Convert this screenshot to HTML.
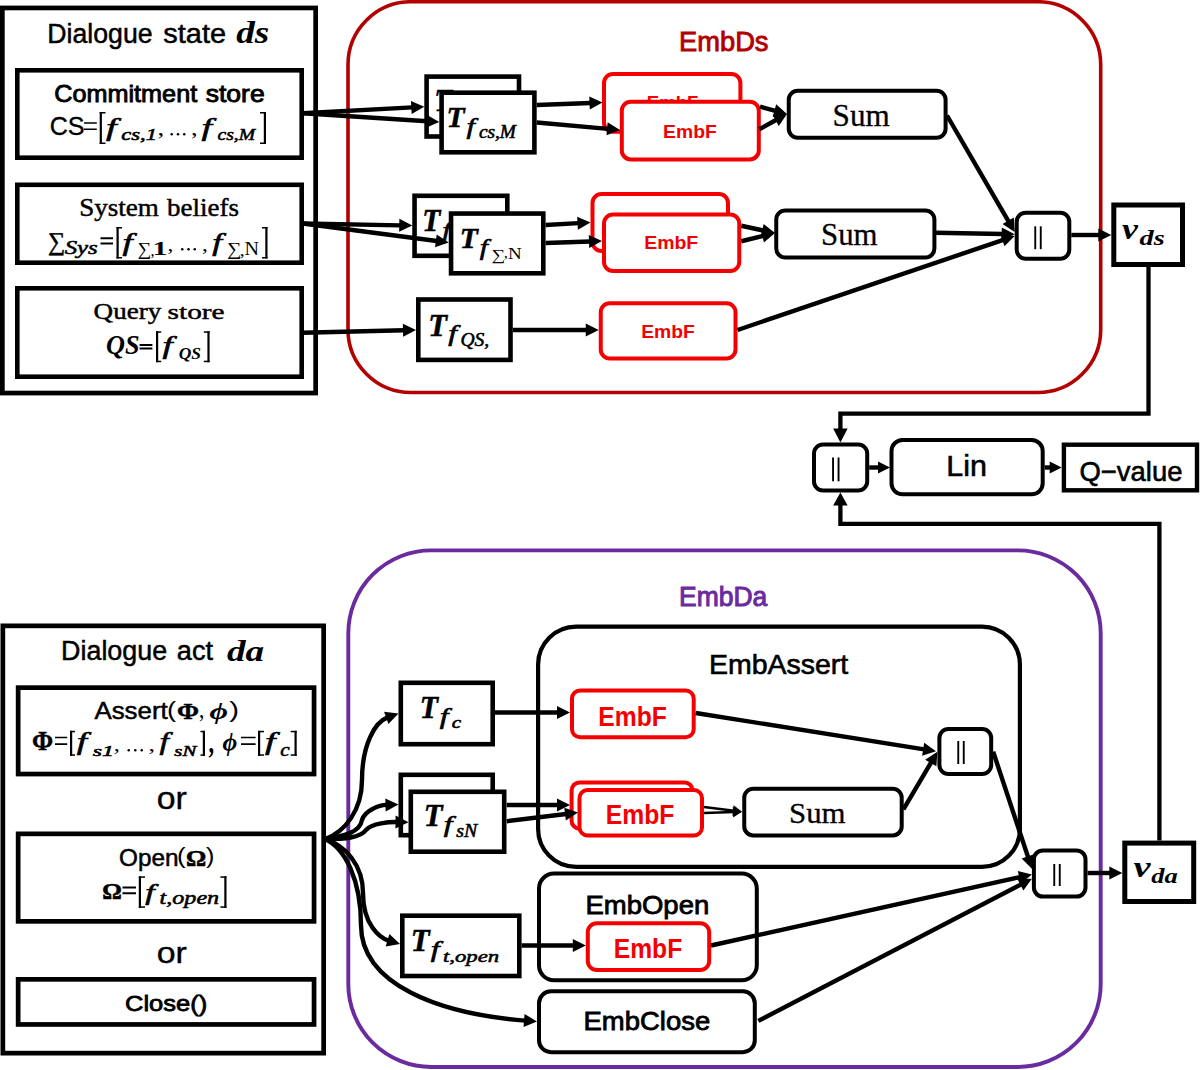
<!DOCTYPE html>
<html><head><meta charset="utf-8">
<style>
html,body{margin:0;padding:0;background:#fff;overflow:hidden;}
svg{display:block;}
</style></head>
<body>
<svg width="1200" height="1070" viewBox="0 0 1200 1070">
<rect width="1200" height="1070" fill="#fff"/>
<rect x="348" y="1.75" width="752.7" height="390.75" rx="63" ry="63" fill="none" stroke="#b30000" stroke-width="3.6"/>
<rect x="348.3" y="550.4" width="752.4" height="516.6" rx="83" ry="83" fill="none" stroke="#6a2b9e" stroke-width="3.9"/>
<rect x="2.35" y="7.95" width="313.30" height="385.10" fill="none" stroke="#000" stroke-width="4.7"/>
<rect x="17.30" y="70.30" width="284.40" height="87.40" fill="#fff" stroke="#000" stroke-width="4.6"/>
<rect x="17.30" y="184.80" width="284.40" height="77.90" fill="#fff" stroke="#000" stroke-width="4.6"/>
<rect x="17.30" y="288.30" width="284.40" height="88.40" fill="#fff" stroke="#000" stroke-width="4.6"/>
<text x="47.30" y="43.00" font-family='"Liberation Sans",sans-serif' font-size="28.36" font-weight="normal" font-style="normal" fill="#000" textLength="105.33" lengthAdjust="spacingAndGlyphs" stroke="#000" stroke-width="0.5">Dialogue</text>
<text x="163.30" y="43.00" font-family='"Liberation Sans",sans-serif' font-size="27.44" font-weight="normal" font-style="normal" fill="#000" textLength="62.74" lengthAdjust="spacingAndGlyphs" stroke="#000" stroke-width="0.5">state</text>
<text x="236.24" y="43.20" font-family='"Liberation Serif",serif' font-size="30.50" font-weight="bold" font-style="italic" fill="#000" textLength="33.04" lengthAdjust="spacingAndGlyphs" >ds</text>
<text x="54.24" y="102.20" font-family='"Liberation Sans",sans-serif' font-size="24.37" font-weight="normal" font-style="normal" fill="#000" textLength="142.95" lengthAdjust="spacingAndGlyphs" stroke="#000" stroke-width="0.9">Commitment</text>
<text x="205.77" y="102.20" font-family='"Liberation Sans",sans-serif' font-size="23.57" font-weight="normal" font-style="normal" fill="#000" textLength="58.87" lengthAdjust="spacingAndGlyphs" stroke="#000" stroke-width="0.9">store</text>
<text x="49.75" y="135.00" font-family='"Liberation Sans",sans-serif' font-size="25.09" font-weight="normal" font-style="normal" fill="#000" textLength="34.86" lengthAdjust="spacingAndGlyphs" stroke="#000" stroke-width="0.35">CS</text>
<path d="M84,123 H96.8 M84,129.2 H96.8" stroke="#000" stroke-width="1.5" fill="none"/>
<rect x="99.7" y="112" width="2.2" height="32" fill="#000"/>
<rect x="99.7" y="112" width="5.799999999999997" height="1.5" fill="#000"/>
<rect x="99.7" y="142.5" width="5.799999999999997" height="1.5" fill="#000"/>
<text x="105.92" y="135.64" font-family='"Liberation Serif",serif' font-size="26.16" font-weight="normal" font-style="italic" fill="#000" textLength="10.68" lengthAdjust="spacingAndGlyphs" stroke="#000" stroke-width="0.6">f</text>
<text x="121.33" y="140.00" font-family='"Liberation Serif",serif' font-size="15.91" font-weight="normal" font-style="italic" fill="#000" textLength="35.60" lengthAdjust="spacingAndGlyphs" stroke="#000" stroke-width="0.55">cs,1</text>
<text x="157.50" y="135.19" font-family='"Liberation Serif",serif' font-size="21.36" font-weight="normal" font-style="normal" fill="#000" textLength="6.67" lengthAdjust="spacingAndGlyphs" >,</text>
<circle cx="171.75" cy="134.2" r="1.25" fill="#000"/>
<circle cx="178.00" cy="134.2" r="1.25" fill="#000"/>
<circle cx="184.25" cy="134.2" r="1.25" fill="#000"/>
<text x="191.00" y="135.19" font-family='"Liberation Serif",serif' font-size="21.36" font-weight="normal" font-style="normal" fill="#000" textLength="6.67" lengthAdjust="spacingAndGlyphs" >,</text>
<text x="201.62" y="135.64" font-family='"Liberation Serif",serif' font-size="26.16" font-weight="normal" font-style="italic" fill="#000" textLength="10.53" lengthAdjust="spacingAndGlyphs" stroke="#000" stroke-width="0.6">f</text>
<text x="217.41" y="140.00" font-family='"Liberation Serif",serif' font-size="17.56" font-weight="normal" font-style="italic" fill="#000" textLength="37.68" lengthAdjust="spacingAndGlyphs" stroke="#000" stroke-width="0.55">cs,M</text>
<rect x="263.8" y="112" width="2.2" height="32" fill="#000"/>
<rect x="260" y="112" width="6" height="1.5" fill="#000"/>
<rect x="260" y="142.5" width="6" height="1.5" fill="#000"/>
<text x="79.17" y="216.00" font-family='"Liberation Serif",serif' font-size="24.91" font-weight="normal" font-style="normal" fill="#000" textLength="79.73" lengthAdjust="spacingAndGlyphs" stroke="#000" stroke-width="0.45">System</text>
<text x="167.00" y="216.00" font-family='"Liberation Serif",serif' font-size="24.46" font-weight="normal" font-style="normal" fill="#000" textLength="71.96" lengthAdjust="spacingAndGlyphs" stroke="#000" stroke-width="0.45">beliefs</text>
<text x="47.91" y="250.11" font-family='"Liberation Serif",serif' font-size="25.36" font-weight="normal" font-style="normal" fill="#000" textLength="17.30" lengthAdjust="spacingAndGlyphs" stroke="#000" stroke-width="0.5">∑</text>
<text x="64.69" y="254.00" font-family='"Liberation Serif",serif' font-size="18.87" font-weight="normal" font-style="italic" fill="#000" textLength="33.00" lengthAdjust="spacingAndGlyphs" stroke="#000" stroke-width="0.55">Sys</text>
<path d="M100.5,238.2 H113 M100.5,243.4 H113" stroke="#000" stroke-width="2.0" fill="none"/>
<rect x="116.5" y="227" width="2.2" height="31.5" fill="#000"/>
<rect x="116.5" y="227" width="5.5" height="1.5" fill="#000"/>
<rect x="116.5" y="257.0" width="5.5" height="1.5" fill="#000"/>
<text x="122.63" y="250.56" font-family='"Liberation Serif",serif' font-size="25.61" font-weight="normal" font-style="italic" fill="#000" textLength="10.17" lengthAdjust="spacingAndGlyphs" stroke="#000" stroke-width="0.6">f</text>
<text x="137.63" y="255.08" font-family='"Liberation Serif",serif' font-size="18.44" font-weight="normal" font-style="normal" fill="#000" textLength="13.72" lengthAdjust="spacingAndGlyphs" >∑</text>
<text x="150.38" y="255.79" font-family='"Liberation Serif",serif' font-size="17.48" font-weight="normal" font-style="normal" fill="#000" textLength="4.17" lengthAdjust="spacingAndGlyphs" >,</text>
<text x="152.61" y="255.00" font-family='"Liberation Serif",serif' font-size="18.18" font-weight="bold" font-style="normal" fill="#000" textLength="14.97" lengthAdjust="spacingAndGlyphs" >1</text>
<text x="167.62" y="251.49" font-family='"Liberation Serif",serif' font-size="19.42" font-weight="normal" font-style="normal" fill="#000" textLength="5.83" lengthAdjust="spacingAndGlyphs" >,</text>
<circle cx="182.25" cy="249.3" r="1.25" fill="#000"/>
<circle cx="188.50" cy="249.3" r="1.25" fill="#000"/>
<circle cx="194.75" cy="249.3" r="1.25" fill="#000"/>
<text x="202.12" y="251.49" font-family='"Liberation Serif",serif' font-size="19.42" font-weight="normal" font-style="normal" fill="#000" textLength="5.83" lengthAdjust="spacingAndGlyphs" >,</text>
<text x="212.15" y="250.56" font-family='"Liberation Serif",serif' font-size="25.61" font-weight="normal" font-style="italic" fill="#000" textLength="9.81" lengthAdjust="spacingAndGlyphs" stroke="#000" stroke-width="0.6">f</text>
<text x="227.10" y="255.08" font-family='"Liberation Serif",serif' font-size="18.44" font-weight="normal" font-style="normal" fill="#000" textLength="14.32" lengthAdjust="spacingAndGlyphs" >∑</text>
<text x="239.75" y="255.79" font-family='"Liberation Serif",serif' font-size="17.48" font-weight="normal" font-style="normal" fill="#000" textLength="5.00" lengthAdjust="spacingAndGlyphs" >,</text>
<text x="244.45" y="255.00" font-family='"Liberation Serif",serif' font-size="18.32" font-weight="normal" font-style="normal" fill="#000" textLength="14.50" lengthAdjust="spacingAndGlyphs" >N</text>
<rect x="265.3" y="227" width="2.2" height="31.5" fill="#000"/>
<rect x="262" y="227" width="5.5" height="1.5" fill="#000"/>
<rect x="262" y="257.0" width="5.5" height="1.5" fill="#000"/>
<text x="93.62" y="319.00" font-family='"Liberation Serif",serif' font-size="23.70" font-weight="normal" font-style="normal" fill="#000" textLength="67.62" lengthAdjust="spacingAndGlyphs" stroke="#000" stroke-width="0.45">Query</text>
<text x="167.63" y="319.00" font-family='"Liberation Serif",serif' font-size="21.77" font-weight="normal" font-style="normal" fill="#000" textLength="56.97" lengthAdjust="spacingAndGlyphs" stroke="#000" stroke-width="0.45">store</text>
<text x="105.98" y="354.00" font-family='"Liberation Serif",serif' font-size="26.42" font-weight="bold" font-style="italic" fill="#000" textLength="33.49" lengthAdjust="spacingAndGlyphs" >QS</text>
<path d="M139.6,345 H152.4 M139.6,348.5 H152.4" stroke="#000" stroke-width="1.8" fill="none"/>
<rect x="156" y="331.3" width="2.2" height="30.899999999999977" fill="#000"/>
<rect x="156" y="331.3" width="5.199999999999989" height="1.5" fill="#000"/>
<rect x="156" y="360.7" width="5.199999999999989" height="1.5" fill="#000"/>
<text x="162.63" y="353.90" font-family='"Liberation Serif",serif' font-size="25.40" font-weight="normal" font-style="italic" fill="#000" textLength="10.17" lengthAdjust="spacingAndGlyphs" stroke="#000" stroke-width="0.6">f</text>
<text x="178.69" y="359.30" font-family='"Liberation Serif",serif' font-size="17.66" font-weight="bold" font-style="italic" fill="#000" textLength="22.32" lengthAdjust="spacingAndGlyphs" >QS</text>
<rect x="207.4" y="331.3" width="2.2" height="30.899999999999977" fill="#000"/>
<rect x="203.8" y="331.3" width="5.799999999999983" height="1.5" fill="#000"/>
<rect x="203.8" y="360.7" width="5.799999999999983" height="1.5" fill="#000"/>
<rect x="2.85" y="625.85" width="320.80" height="427.30" fill="none" stroke="#000" stroke-width="4.7"/>
<rect x="18.15" y="687.65" width="295.90" height="86.40" fill="#fff" stroke="#000" stroke-width="4.7"/>
<rect x="18.15" y="833.85" width="295.90" height="87.50" fill="#fff" stroke="#000" stroke-width="4.7"/>
<rect x="18.15" y="979.35" width="295.90" height="45.10" fill="#fff" stroke="#000" stroke-width="4.7"/>
<text x="61.08" y="660.40" font-family='"Liberation Sans",sans-serif' font-size="27.93" font-weight="normal" font-style="normal" fill="#000" textLength="106.06" lengthAdjust="spacingAndGlyphs" stroke="#000" stroke-width="0.5">Dialogue</text>
<text x="176.85" y="660.40" font-family='"Liberation Sans",sans-serif' font-size="26.98" font-weight="normal" font-style="normal" fill="#000" textLength="36.20" lengthAdjust="spacingAndGlyphs" stroke="#000" stroke-width="0.5">act</text>
<text x="227.04" y="661.00" font-family='"Liberation Serif",serif' font-size="29.78" font-weight="bold" font-style="italic" fill="#000" textLength="37.19" lengthAdjust="spacingAndGlyphs" >da</text>
<text x="94.44" y="718.90" font-family='"Liberation Sans",sans-serif' font-size="23.42" font-weight="normal" font-style="normal" fill="#000" textLength="73.30" lengthAdjust="spacingAndGlyphs" stroke="#000" stroke-width="0.5">Assert</text>
<text x="167.10" y="716.89" font-family='"Liberation Sans",sans-serif' font-size="22.20" font-weight="normal" font-style="normal" fill="#000" textLength="9.05" lengthAdjust="spacingAndGlyphs" >(</text>
<text x="176.90" y="718.90" font-family='"Liberation Serif",serif' font-size="23.66" font-weight="bold" font-style="normal" fill="#000" textLength="22.04" lengthAdjust="spacingAndGlyphs" stroke="#000" stroke-width="0.4">Φ</text>
<text x="199.00" y="718.21" font-family='"Liberation Serif",serif' font-size="24.47" font-weight="normal" font-style="normal" fill="#000" textLength="5.33" lengthAdjust="spacingAndGlyphs" >,</text>
<text x="209.52" y="719.26" font-family='"Liberation Serif",serif' font-size="22.28" font-weight="bold" font-style="italic" fill="#000" textLength="18.47" lengthAdjust="spacingAndGlyphs" >ϕ</text>
<text x="229.28" y="716.89" font-family='"Liberation Sans",sans-serif' font-size="22.20" font-weight="normal" font-style="normal" fill="#000" textLength="9.80" lengthAdjust="spacingAndGlyphs" >)</text>
<text x="32.04" y="750.40" font-family='"Liberation Serif",serif' font-size="26.72" font-weight="bold" font-style="normal" fill="#000" textLength="21.15" lengthAdjust="spacingAndGlyphs" stroke="#000" stroke-width="0.4">Φ</text>
<path d="M55,737.5 H67.2 M55,744.2 H67.2" stroke="#000" stroke-width="1.7" fill="none"/>
<rect x="70" y="730.8" width="2.2" height="25.0" fill="#000"/>
<rect x="70" y="730.8" width="5" height="1.5" fill="#000"/>
<rect x="70" y="754.3" width="5" height="1.5" fill="#000"/>
<text x="76.83" y="750.29" font-family='"Liberation Serif",serif' font-size="25.94" font-weight="normal" font-style="italic" fill="#000" textLength="10.24" lengthAdjust="spacingAndGlyphs" stroke="#000" stroke-width="0.6">f</text>
<text x="92.70" y="755.80" font-family='"Liberation Serif",serif' font-size="15.15" font-weight="normal" font-style="italic" fill="#000" textLength="21.13" lengthAdjust="spacingAndGlyphs" stroke="#000" stroke-width="0.55">s1</text>
<text x="113.78" y="751.49" font-family='"Liberation Serif",serif' font-size="19.42" font-weight="normal" font-style="normal" fill="#000" textLength="6.17" lengthAdjust="spacingAndGlyphs" >,</text>
<circle cx="128.75" cy="750.2" r="1.25" fill="#000"/>
<circle cx="135.25" cy="750.2" r="1.25" fill="#000"/>
<circle cx="141.75" cy="750.2" r="1.25" fill="#000"/>
<text x="148.43" y="751.49" font-family='"Liberation Serif",serif' font-size="19.42" font-weight="normal" font-style="normal" fill="#000" textLength="6.50" lengthAdjust="spacingAndGlyphs" >,</text>
<text x="159.46" y="750.29" font-family='"Liberation Serif",serif' font-size="25.94" font-weight="normal" font-style="italic" fill="#000" textLength="9.37" lengthAdjust="spacingAndGlyphs" stroke="#000" stroke-width="0.6">f</text>
<text x="174.34" y="755.80" font-family='"Liberation Serif",serif' font-size="14.81" font-weight="normal" font-style="italic" fill="#000" textLength="21.90" lengthAdjust="spacingAndGlyphs" stroke="#000" stroke-width="0.55">sN</text>
<rect x="202.8" y="730.8" width="2.2" height="25.0" fill="#000"/>
<rect x="200.5" y="730.8" width="4.5" height="1.5" fill="#000"/>
<rect x="200.5" y="754.3" width="4.5" height="1.5" fill="#000"/>
<text x="208.62" y="753.33" font-family='"Liberation Serif",serif' font-size="32.07" font-weight="bold" font-style="normal" fill="#000" textLength="5.62" lengthAdjust="spacingAndGlyphs" >,</text>
<text x="222.62" y="750.51" font-family='"Liberation Serif",serif' font-size="24.40" font-weight="bold" font-style="italic" fill="#000" textLength="14.78" lengthAdjust="spacingAndGlyphs" >ϕ</text>
<path d="M241,737.5 H255.6 M241,744.2 H255.6" stroke="#000" stroke-width="1.7" fill="none"/>
<rect x="258" y="730.8" width="2.2" height="25.0" fill="#000"/>
<rect x="258" y="730.8" width="6" height="1.5" fill="#000"/>
<rect x="258" y="754.3" width="6" height="1.5" fill="#000"/>
<text x="264.92" y="750.29" font-family='"Liberation Serif",serif' font-size="25.94" font-weight="normal" font-style="italic" fill="#000" textLength="10.53" lengthAdjust="spacingAndGlyphs" stroke="#000" stroke-width="0.6">f</text>
<text x="280.37" y="755.80" font-family='"Liberation Serif",serif' font-size="18.09" font-weight="normal" font-style="italic" fill="#000" textLength="9.37" lengthAdjust="spacingAndGlyphs" stroke="#000" stroke-width="0.55">c</text>
<rect x="294.5" y="730.8" width="2.2" height="25.0" fill="#000"/>
<rect x="290.7" y="730.8" width="6.0" height="1.5" fill="#000"/>
<rect x="290.7" y="754.3" width="6.0" height="1.5" fill="#000"/>
<text x="156.76" y="808.50" font-family='"Liberation Sans",sans-serif' font-size="30.51" font-weight="normal" font-style="normal" fill="#000" textLength="30.10" lengthAdjust="spacingAndGlyphs" stroke="#000" stroke-width="0.35">or</text>
<text x="119.10" y="865.60" font-family='"Liberation Sans",sans-serif' font-size="24.23" font-weight="normal" font-style="normal" fill="#000" textLength="59.46" lengthAdjust="spacingAndGlyphs" stroke="#000" stroke-width="0.5">Open</text>
<text x="177.10" y="863.14" font-family='"Liberation Sans",sans-serif' font-size="22.95" font-weight="normal" font-style="normal" fill="#000" textLength="8.55" lengthAdjust="spacingAndGlyphs" >(</text>
<text x="186.06" y="865.60" font-family='"Liberation Serif",serif' font-size="22.94" font-weight="bold" font-style="normal" fill="#000" textLength="20.23" lengthAdjust="spacingAndGlyphs" stroke="#000" stroke-width="0.6">Ω</text>
<text x="206.11" y="863.14" font-family='"Liberation Sans",sans-serif' font-size="22.95" font-weight="normal" font-style="normal" fill="#000" textLength="8.42" lengthAdjust="spacingAndGlyphs" >)</text>
<text x="102.30" y="899.40" font-family='"Liberation Serif",serif' font-size="22.94" font-weight="bold" font-style="normal" fill="#000" textLength="19.56" lengthAdjust="spacingAndGlyphs" stroke="#000" stroke-width="0.6">Ω</text>
<path d="M122.5,887.5 H136 M122.5,893.2 H136" stroke="#000" stroke-width="2.0" fill="none"/>
<rect x="138.8" y="876.3" width="2.2" height="31.5" fill="#000"/>
<rect x="138.8" y="876.3" width="6.199999999999989" height="1.5" fill="#000"/>
<rect x="138.8" y="906.3" width="6.199999999999989" height="1.5" fill="#000"/>
<text x="145.26" y="899.58" font-family='"Liberation Serif",serif' font-size="22.67" font-weight="normal" font-style="italic" fill="#000" textLength="9.37" lengthAdjust="spacingAndGlyphs" stroke="#000" stroke-width="0.6">f</text>
<text x="159.62" y="903.90" font-family='"Liberation Serif",serif' font-size="18.94" font-weight="normal" font-style="italic" fill="#000" textLength="59.49" lengthAdjust="spacingAndGlyphs" stroke="#000" stroke-width="0.55">t,open</text>
<rect x="224.3" y="876.3" width="2.2" height="31.5" fill="#000"/>
<rect x="220.4" y="876.3" width="6.099999999999994" height="1.5" fill="#000"/>
<rect x="220.4" y="906.3" width="6.099999999999994" height="1.5" fill="#000"/>
<text x="156.76" y="962.50" font-family='"Liberation Sans",sans-serif' font-size="29.40" font-weight="normal" font-style="normal" fill="#000" textLength="30.10" lengthAdjust="spacingAndGlyphs" stroke="#000" stroke-width="0.35">or</text>
<text x="125.03" y="1010.80" font-family='"Liberation Sans",sans-serif' font-size="22.65" font-weight="normal" font-style="normal" fill="#000" textLength="82.11" lengthAdjust="spacingAndGlyphs" stroke="#000" stroke-width="0.8">Close()</text>
<text x="679.05" y="50.80" font-family='"Liberation Sans",sans-serif' font-size="27.78" font-weight="normal" font-style="normal" fill="#b30000" textLength="89.43" lengthAdjust="spacingAndGlyphs" stroke="#b30000" stroke-width="0.9">EmbDs</text>
<rect x="426.60" y="76.60" width="92.40" height="59.90" fill="#fff" stroke="#000" stroke-width="4.6"/>
<text x="434.15" y="111.20" font-family='"Liberation Serif",serif' font-size="31.30" font-weight="bold" font-style="italic" fill="#000" textLength="18.11" lengthAdjust="spacingAndGlyphs" stroke="#000" stroke-width="0.5">T</text>
<rect x="441.60" y="92.70" width="92.80" height="59.60" fill="#fff" stroke="#000" stroke-width="4.6"/>
<text x="446.45" y="127.20" font-family='"Liberation Serif",serif' font-size="30.38" font-weight="bold" font-style="italic" fill="#000" textLength="18.11" lengthAdjust="spacingAndGlyphs" stroke="#000" stroke-width="0.5">T</text>
<text x="466.40" y="133.94" font-family='"Liberation Serif",serif' font-size="22.89" font-weight="normal" font-style="italic" fill="#000" textLength="8.43" lengthAdjust="spacingAndGlyphs" stroke="#000" stroke-width="0.6">f</text>
<text x="478.92" y="137.70" font-family='"Liberation Serif",serif' font-size="17.86" font-weight="normal" font-style="italic" fill="#000" textLength="37.08" lengthAdjust="spacingAndGlyphs" stroke="#000" stroke-width="0.55">cs,M</text>
<rect x="604.00" y="74.00" width="136.40" height="57.70" rx="9" ry="9" fill="#fff" stroke="#f40000" stroke-width="4"/>
<text x="646.75" y="109.40" font-family='"Liberation Sans",sans-serif' font-size="19.20" font-weight="bold" font-style="normal" fill="#f40000" textLength="51.61" lengthAdjust="spacingAndGlyphs" >EmbF</text>
<rect x="621.80" y="101.70" width="137.00" height="57.70" rx="9" ry="9" fill="#fff" stroke="#f40000" stroke-width="4"/>
<text x="663.10" y="137.70" font-family='"Liberation Sans",sans-serif' font-size="19.20" font-weight="bold" font-style="normal" fill="#f40000" textLength="53.69" lengthAdjust="spacingAndGlyphs" >EmbF</text>
<rect x="788.75" y="90.75" width="156.85" height="46.95" rx="9" ry="9" fill="#fff" stroke="#000" stroke-width="4"/>
<text x="832.60" y="125.80" font-family='"Liberation Serif",serif' font-size="31.09" font-weight="normal" font-style="normal" fill="#000" textLength="57.12" lengthAdjust="spacingAndGlyphs" stroke="#000" stroke-width="0.3">Sum</text>
<rect x="414.55" y="195.80" width="92.75" height="60.00" fill="#fff" stroke="#000" stroke-width="4.6"/>
<text x="422.26" y="231.25" font-family='"Liberation Serif",serif' font-size="30.53" font-weight="bold" font-style="italic" fill="#000" textLength="18.06" lengthAdjust="spacingAndGlyphs" stroke="#000" stroke-width="0.5">T</text>
<text x="442.20" y="238.25" font-family='"Liberation Serif",serif' font-size="22.34" font-weight="normal" font-style="italic" fill="#000" textLength="8.35" lengthAdjust="spacingAndGlyphs" stroke="#000" stroke-width="0.6">f</text>
<rect x="451.05" y="213.55" width="92.25" height="59.75" fill="#fff" stroke="#000" stroke-width="4.6"/>
<text x="459.76" y="247.50" font-family='"Liberation Serif",serif' font-size="29.62" font-weight="bold" font-style="italic" fill="#000" textLength="18.06" lengthAdjust="spacingAndGlyphs" stroke="#000" stroke-width="0.5">T</text>
<text x="479.71" y="254.62" font-family='"Liberation Serif",serif' font-size="22.51" font-weight="normal" font-style="italic" fill="#000" textLength="8.17" lengthAdjust="spacingAndGlyphs" stroke="#000" stroke-width="0.6">f</text>
<text x="491.63" y="259.69" font-family='"Liberation Serif",serif' font-size="15.56" font-weight="normal" font-style="normal" fill="#000" textLength="13.72" lengthAdjust="spacingAndGlyphs" >∑</text>
<text x="503.88" y="257.59" font-family='"Liberation Serif",serif' font-size="15.53" font-weight="normal" font-style="normal" fill="#000" textLength="4.17" lengthAdjust="spacingAndGlyphs" >,</text>
<text x="507.98" y="259.40" font-family='"Liberation Serif",serif' font-size="17.40" font-weight="normal" font-style="normal" fill="#000" textLength="13.69" lengthAdjust="spacingAndGlyphs" >N</text>
<rect x="592.50" y="194.00" width="135.50" height="57.00" rx="9" ry="9" fill="#fff" stroke="#f40000" stroke-width="4"/>
<text x="633.20" y="229.50" font-family='"Liberation Sans",sans-serif' font-size="19.20" font-weight="bold" font-style="normal" fill="#f40000" textLength="53.48" lengthAdjust="spacingAndGlyphs" >EmbF</text>
<rect x="604.00" y="214.50" width="135.25" height="56.50" rx="9" ry="9" fill="#fff" stroke="#f40000" stroke-width="4"/>
<text x="644.19" y="249.25" font-family='"Liberation Sans",sans-serif' font-size="19.20" font-weight="bold" font-style="normal" fill="#f40000" textLength="54.00" lengthAdjust="spacingAndGlyphs" >EmbF</text>
<rect x="776.25" y="210.50" width="158.15" height="47.00" rx="9" ry="9" fill="#fff" stroke="#000" stroke-width="4"/>
<text x="821.02" y="245.40" font-family='"Liberation Serif",serif' font-size="31.09" font-weight="normal" font-style="normal" fill="#000" textLength="56.49" lengthAdjust="spacingAndGlyphs" stroke="#000" stroke-width="0.3">Sum</text>
<rect x="418.30" y="299.50" width="92.20" height="60.40" fill="#fff" stroke="#000" stroke-width="4.6"/>
<text x="428.27" y="335.50" font-family='"Liberation Serif",serif' font-size="31.30" font-weight="bold" font-style="italic" fill="#000" textLength="18.75" lengthAdjust="spacingAndGlyphs" stroke="#000" stroke-width="0.5">T</text>
<text x="448.19" y="340.75" font-family='"Liberation Serif",serif' font-size="22.34" font-weight="normal" font-style="italic" fill="#000" textLength="8.72" lengthAdjust="spacingAndGlyphs" stroke="#000" stroke-width="0.6">f</text>
<text x="460.42" y="346.00" font-family='"Liberation Serif",serif' font-size="18.11" font-weight="normal" font-style="italic" fill="#000" textLength="28.79" lengthAdjust="spacingAndGlyphs" stroke="#000" stroke-width="0.55">QS,</text>
<rect x="600.75" y="303.25" width="134.75" height="55.25" rx="9" ry="9" fill="#fff" stroke="#f40000" stroke-width="4"/>
<text x="641.19" y="337.50" font-family='"Liberation Sans",sans-serif' font-size="19.20" font-weight="bold" font-style="normal" fill="#f40000" textLength="53.74" lengthAdjust="spacingAndGlyphs" >EmbF</text>
<rect x="1016.70" y="212.80" width="52.60" height="46.00" rx="9" ry="9" fill="#fff" stroke="#000" stroke-width="4"/>
<line x1="1035.25" y1="226.3" x2="1035.25" y2="249.2" stroke="#000" stroke-width="1.9"/>
<line x1="1040.75" y1="226.3" x2="1040.75" y2="249.2" stroke="#000" stroke-width="1.9"/>
<rect x="1113.80" y="205.00" width="68.70" height="59.50" fill="#fff" stroke="#000" stroke-width="5"/>
<text x="1122.14" y="239.00" font-family='"Liberation Serif",serif' font-size="30.43" font-weight="bold" font-style="italic" fill="#000" textLength="15.85" lengthAdjust="spacingAndGlyphs" >v</text>
<text x="1139.64" y="245.00" font-family='"Liberation Serif",serif' font-size="20.86" font-weight="bold" font-style="italic" fill="#000" textLength="25.25" lengthAdjust="spacingAndGlyphs" >ds</text>
<path d="M1148.5,267 V413.7 H840.4 V430" fill="none" stroke="#000" stroke-width="4.3" />
<path d="M1159.4,840.6 V523.8 H840.4 V505" fill="none" stroke="#000" stroke-width="4.3" />
<rect x="814.00" y="444.50" width="53.20" height="46.00" rx="9" ry="9" fill="#fff" stroke="#000" stroke-width="4"/>
<line x1="833.05" y1="457.5" x2="833.05" y2="481.3" stroke="#000" stroke-width="1.9"/>
<line x1="838.55" y1="457.5" x2="838.55" y2="481.3" stroke="#000" stroke-width="1.9"/>
<rect x="891.50" y="440.00" width="151.20" height="54.30" rx="11" ry="11" fill="#fff" stroke="#000" stroke-width="4"/>
<text x="946.29" y="476.30" font-family='"Liberation Sans",sans-serif' font-size="29.82" font-weight="normal" font-style="normal" fill="#000" textLength="40.68" lengthAdjust="spacingAndGlyphs" stroke="#000" stroke-width="0.6">Lin</text>
<rect x="1063.90" y="444.70" width="133.10" height="45.60" fill="#fff" stroke="#000" stroke-width="4.4"/>
<text x="1079.50" y="480.50" font-family='"Liberation Sans",sans-serif' font-size="28.24" font-weight="normal" font-style="normal" fill="#000" textLength="102.97" lengthAdjust="spacingAndGlyphs" stroke="#000" stroke-width="0.6">Q−value</text>
<text x="679.07" y="606.00" font-family='"Liberation Sans",sans-serif' font-size="27.64" font-weight="normal" font-style="normal" fill="#6a2b9e" textLength="88.22" lengthAdjust="spacingAndGlyphs" stroke="#6a2b9e" stroke-width="1.0">EmbDa</text>
<rect x="538.10" y="626.60" width="481.80" height="240.30" rx="38" ry="38" fill="none" stroke="#000" stroke-width="4.2"/>
<text x="708.95" y="674.00" font-family='"Liberation Sans",sans-serif' font-size="27.20" font-weight="normal" font-style="normal" fill="#000" textLength="139.27" lengthAdjust="spacingAndGlyphs" stroke="#000" stroke-width="0.6">EmbAssert</text>
<rect x="400.80" y="682.80" width="91.90" height="61.40" fill="#fff" stroke="#000" stroke-width="4.6"/>
<text x="419.84" y="717.50" font-family='"Liberation Serif",serif' font-size="30.53" font-weight="bold" font-style="italic" fill="#000" textLength="18.22" lengthAdjust="spacingAndGlyphs" stroke="#000" stroke-width="0.5">T</text>
<text x="439.69" y="724.14" font-family='"Liberation Serif",serif' font-size="22.89" font-weight="normal" font-style="italic" fill="#000" textLength="8.72" lengthAdjust="spacingAndGlyphs" stroke="#000" stroke-width="0.6">f</text>
<text x="451.87" y="727.50" font-family='"Liberation Serif",serif' font-size="17.02" font-weight="normal" font-style="italic" fill="#000" textLength="9.37" lengthAdjust="spacingAndGlyphs" stroke="#000" stroke-width="0.55">c</text>
<rect x="572.00" y="690.50" width="121.70" height="46.80" rx="8" ry="8" fill="#fff" stroke="#f40000" stroke-width="4"/>
<text x="598.33" y="726.40" font-family='"Liberation Sans",sans-serif' font-size="27.20" font-weight="bold" font-style="normal" fill="#f40000" textLength="68.54" lengthAdjust="spacingAndGlyphs" >EmbF</text>
<rect x="400.80" y="774.80" width="91.90" height="60.40" fill="#fff" stroke="#000" stroke-width="4.6"/>
<rect x="410.80" y="791.80" width="93.40" height="59.90" fill="#fff" stroke="#000" stroke-width="4.6"/>
<text x="423.77" y="825.50" font-family='"Liberation Serif",serif' font-size="30.53" font-weight="bold" font-style="italic" fill="#000" textLength="18.75" lengthAdjust="spacingAndGlyphs" stroke="#000" stroke-width="0.5">T</text>
<text x="443.69" y="832.03" font-family='"Liberation Serif",serif' font-size="22.45" font-weight="normal" font-style="italic" fill="#000" textLength="8.72" lengthAdjust="spacingAndGlyphs" stroke="#000" stroke-width="0.6">f</text>
<text x="456.25" y="836.50" font-family='"Liberation Serif",serif' font-size="18.32" font-weight="normal" font-style="italic" fill="#000" textLength="20.83" lengthAdjust="spacingAndGlyphs" stroke="#000" stroke-width="0.55">sN</text>
<rect x="571.60" y="782.40" width="120.90" height="46.40" rx="8" ry="8" fill="#fff" stroke="#f40000" stroke-width="4"/>
<rect x="579.50" y="790.00" width="122.50" height="45.50" rx="8" ry="8" fill="#fff" stroke="#f40000" stroke-width="4"/>
<text x="605.83" y="823.80" font-family='"Liberation Sans",sans-serif' font-size="27.20" font-weight="bold" font-style="normal" fill="#f40000" textLength="68.64" lengthAdjust="spacingAndGlyphs" >EmbF</text>
<rect x="744.25" y="788.80" width="157.45" height="46.60" rx="9" ry="9" fill="#fff" stroke="#000" stroke-width="4"/>
<text x="789.02" y="823.20" font-family='"Liberation Serif",serif' font-size="29.89" font-weight="normal" font-style="normal" fill="#000" textLength="56.49" lengthAdjust="spacingAndGlyphs" stroke="#000" stroke-width="0.3">Sum</text>
<rect x="939.40" y="729.00" width="51.80" height="45.00" rx="9" ry="9" fill="#fff" stroke="#000" stroke-width="4"/>
<line x1="958.25" y1="741" x2="958.25" y2="764" stroke="#000" stroke-width="1.9"/>
<line x1="963.75" y1="741" x2="963.75" y2="764" stroke="#000" stroke-width="1.9"/>
<rect x="402.30" y="915.70" width="117.00" height="60.30" fill="#fff" stroke="#000" stroke-width="4.6"/>
<text x="410.76" y="950.50" font-family='"Liberation Serif",serif' font-size="31.30" font-weight="bold" font-style="italic" fill="#000" textLength="18.86" lengthAdjust="spacingAndGlyphs" stroke="#000" stroke-width="0.5">T</text>
<text x="430.88" y="956.92" font-family='"Liberation Serif",serif' font-size="22.02" font-weight="normal" font-style="italic" fill="#000" textLength="8.86" lengthAdjust="spacingAndGlyphs" stroke="#000" stroke-width="0.6">f</text>
<text x="442.98" y="961.60" font-family='"Liberation Serif",serif' font-size="17.52" font-weight="normal" font-style="italic" fill="#000" textLength="56.27" lengthAdjust="spacingAndGlyphs" stroke="#000" stroke-width="0.55">t,open</text>
<rect x="539.00" y="873.60" width="217.80" height="106.70" rx="15" ry="15" fill="none" stroke="#000" stroke-width="4"/>
<text x="585.53" y="913.60" font-family='"Liberation Sans",sans-serif' font-size="25.31" font-weight="normal" font-style="normal" fill="#000" textLength="123.68" lengthAdjust="spacingAndGlyphs" stroke="#000" stroke-width="0.8">EmbOpen</text>
<rect x="587.80" y="923.20" width="121.40" height="46.80" rx="9" ry="9" fill="#fff" stroke="#f40000" stroke-width="4"/>
<text x="613.73" y="958.00" font-family='"Liberation Sans",sans-serif' font-size="27.20" font-weight="bold" font-style="normal" fill="#f40000" textLength="68.54" lengthAdjust="spacingAndGlyphs" >EmbF</text>
<rect x="539.00" y="991.30" width="215.80" height="60.90" rx="12" ry="12" fill="#fff" stroke="#000" stroke-width="4"/>
<text x="583.54" y="1029.60" font-family='"Liberation Sans",sans-serif' font-size="25.31" font-weight="normal" font-style="normal" fill="#000" textLength="126.64" lengthAdjust="spacingAndGlyphs" stroke="#000" stroke-width="0.8">EmbClose</text>
<rect x="1033.90" y="850.40" width="51.60" height="46.20" rx="9" ry="9" fill="#fff" stroke="#000" stroke-width="4"/>
<line x1="1054.25" y1="864" x2="1054.25" y2="886" stroke="#000" stroke-width="1.9"/>
<line x1="1059.75" y1="864" x2="1059.75" y2="886" stroke="#000" stroke-width="1.9"/>
<rect x="1124.80" y="843.10" width="68.90" height="58.40" fill="#fff" stroke="#000" stroke-width="5"/>
<text x="1133.62" y="877.40" font-family='"Liberation Serif",serif' font-size="30.43" font-weight="bold" font-style="italic" fill="#000" textLength="17.05" lengthAdjust="spacingAndGlyphs" >v</text>
<text x="1151.17" y="883.00" font-family='"Liberation Serif",serif' font-size="20.86" font-weight="bold" font-style="italic" fill="#000" textLength="26.49" lengthAdjust="spacingAndGlyphs" >da</text>
<line x1="303.30" y1="113.30" x2="412.32" y2="107.35" stroke="#000" stroke-width="4.4"/>
<polygon points="424.30,106.70 411.67,113.90 410.97,100.92" fill="#000"/>
<line x1="303.30" y1="113.30" x2="427.32" y2="121.23" stroke="#000" stroke-width="4.4"/>
<polygon points="439.30,122.00 425.91,127.66 426.74,114.68" fill="#000"/>
<line x1="536.70" y1="105.00" x2="590.51" y2="102.96" stroke="#000" stroke-width="4.4"/>
<polygon points="602.50,102.50 589.76,109.49 589.26,96.50" fill="#000"/>
<line x1="536.70" y1="122.50" x2="608.05" y2="128.92" stroke="#000" stroke-width="4.4"/>
<polygon points="620.00,130.00 606.47,135.31 607.64,122.36" fill="#000"/>
<line x1="760.00" y1="106.70" x2="775.42" y2="110.87" stroke="#000" stroke-width="4.4"/>
<polygon points="787.00,114.00 772.75,116.88 776.15,104.33" fill="#000"/>
<line x1="759.30" y1="129.30" x2="776.50" y2="119.80" stroke="#000" stroke-width="4.4"/>
<polygon points="787.00,114.00 778.76,125.98 772.48,114.60" fill="#000"/>
<line x1="302.80" y1="223.50" x2="400.25" y2="225.37" stroke="#000" stroke-width="4.4"/>
<polygon points="412.25,225.60 399.13,231.85 399.38,218.85" fill="#000"/>
<line x1="302.80" y1="223.50" x2="436.85" y2="240.95" stroke="#000" stroke-width="4.4"/>
<polygon points="448.75,242.50 435.02,247.27 436.70,234.38" fill="#000"/>
<line x1="545.60" y1="225.00" x2="578.52" y2="223.17" stroke="#000" stroke-width="4.4"/>
<polygon points="590.50,222.50 577.88,229.71 577.16,216.73" fill="#000"/>
<line x1="545.60" y1="243.00" x2="590.01" y2="241.43" stroke="#000" stroke-width="4.4"/>
<polygon points="602.00,241.00 589.24,247.96 588.78,234.96" fill="#000"/>
<line x1="741.25" y1="225.75" x2="763.27" y2="230.48" stroke="#000" stroke-width="4.4"/>
<polygon points="775.00,233.00 760.92,236.62 763.66,223.91" fill="#000"/>
<line x1="741.25" y1="241.25" x2="763.34" y2="235.85" stroke="#000" stroke-width="4.4"/>
<polygon points="775.00,233.00 763.92,242.40 760.83,229.77" fill="#000"/>
<line x1="302.80" y1="332.70" x2="404.00" y2="330.29" stroke="#000" stroke-width="4.4"/>
<polygon points="416.00,330.00 403.16,336.81 402.85,323.81" fill="#000"/>
<line x1="512.80" y1="330.00" x2="586.75" y2="330.00" stroke="#000" stroke-width="4.4"/>
<polygon points="598.75,330.00 585.75,336.50 585.75,323.50" fill="#000"/>
<line x1="947.00" y1="115.50" x2="1008.67" y2="221.62" stroke="#000" stroke-width="4.4"/>
<polygon points="1014.70,232.00 1002.55,224.03 1013.79,217.49" fill="#000"/>
<line x1="936.00" y1="232.70" x2="1002.70" y2="233.97" stroke="#000" stroke-width="4.4"/>
<polygon points="1014.70,234.20 1001.58,240.45 1001.83,227.45" fill="#000"/>
<line x1="737.50" y1="330.00" x2="1003.34" y2="239.85" stroke="#000" stroke-width="4.4"/>
<polygon points="1014.70,236.00 1004.48,246.33 1000.30,234.02" fill="#000"/>
<line x1="1071.30" y1="235.00" x2="1099.30" y2="235.00" stroke="#000" stroke-width="4.4"/>
<polygon points="1111.30,235.00 1098.30,241.50 1098.30,228.50" fill="#000"/>
<polygon points="840.40,442.50 833.15,428.50 847.65,428.50" fill="#000"/>
<polygon points="840.40,492.50 847.65,505.50 833.15,505.50" fill="#000"/>
<line x1="869.20" y1="467.50" x2="879.00" y2="467.50" stroke="#000" stroke-width="4.4"/>
<polygon points="890.00,467.50 878.00,473.50 878.00,461.50" fill="#000"/>
<line x1="1044.70" y1="467.50" x2="1050.70" y2="467.50" stroke="#000" stroke-width="4.4"/>
<polygon points="1061.70,467.50 1049.70,473.50 1049.70,461.50" fill="#000"/>
<path d="M325,839 C345,832 362,810 362,780 C362,745 375,722 387.20,717.64" fill="none" stroke="#000" stroke-width="4.4" />
<polygon points="398.50,713.60 388.45,724.10 384.07,711.85" fill="#000"/>
<line x1="495.00" y1="712.50" x2="558.00" y2="712.50" stroke="#000" stroke-width="4.4"/>
<polygon points="570.00,712.50 557.00,719.00 557.00,706.00" fill="#000"/>
<path d="M325,839 C345,836 360,832 362,820 C365,810 380,805 386.50,804.86" fill="none" stroke="#000" stroke-width="4.4" />
<polygon points="398.50,804.60 385.64,811.38 385.36,798.38" fill="#000"/>
<path d="M325,839 C345,839 360,838 366,830 C372,823 390,822 396.50,822.07" fill="none" stroke="#000" stroke-width="4.4" />
<polygon points="408.50,822.20 395.43,828.56 395.57,815.56" fill="#000"/>
<line x1="506.70" y1="805.00" x2="558.00" y2="805.00" stroke="#000" stroke-width="4.4"/>
<polygon points="570.00,805.00 557.00,811.50 557.00,798.50" fill="#000"/>
<line x1="506.70" y1="821.25" x2="566.09" y2="813.96" stroke="#000" stroke-width="4.4"/>
<polygon points="578.00,812.50 565.89,820.54 564.31,807.63" fill="#000"/>
<line x1="704.00" y1="807.00" x2="734.06" y2="810.72" stroke="#000" stroke-width="2.5"/>
<polygon points="742.00,811.70 732.39,816.05 733.74,805.14" fill="#000"/>
<line x1="704.00" y1="813.00" x2="734.00" y2="811.97" stroke="#000" stroke-width="2.5"/>
<polygon points="742.00,811.70 733.19,817.50 732.82,806.51" fill="#000"/>
<line x1="695.70" y1="713.00" x2="924.15" y2="749.41" stroke="#000" stroke-width="4.4"/>
<polygon points="936.00,751.30 922.14,755.67 924.19,742.83" fill="#000"/>
<line x1="903.40" y1="809.40" x2="931.30" y2="762.13" stroke="#000" stroke-width="4.4"/>
<polygon points="937.40,751.80 936.39,766.30 925.19,759.69" fill="#000"/>
<path d="M325,839 C345,845 363,865 363,893 C363,925 380,938 388.51,940.55" fill="none" stroke="#000" stroke-width="4.4" />
<polygon points="400.00,944.00 385.68,946.49 389.42,934.04" fill="#000"/>
<line x1="521.60" y1="945.50" x2="573.80" y2="945.50" stroke="#000" stroke-width="4.4"/>
<polygon points="585.80,945.50 572.80,952.00 572.80,939.00" fill="#000"/>
<path d="M325,839 C345,848 361,880 361,925 C361,985 440,1014 525.04,1020.57" fill="none" stroke="#000" stroke-width="4.4" />
<polygon points="537.00,1021.50 523.54,1026.98 524.54,1014.02" fill="#000"/>
<line x1="993.20" y1="751.80" x2="1028.13" y2="857.31" stroke="#000" stroke-width="4.4"/>
<polygon points="1031.90,868.70 1021.64,858.40 1033.99,854.32" fill="#000"/>
<line x1="711.00" y1="945.50" x2="1020.18" y2="877.09" stroke="#000" stroke-width="4.4"/>
<polygon points="1031.90,874.50 1020.61,883.65 1017.80,870.96" fill="#000"/>
<line x1="758.30" y1="1020.90" x2="1021.25" y2="884.33" stroke="#000" stroke-width="4.4"/>
<polygon points="1031.90,878.80 1023.36,890.56 1017.37,879.02" fill="#000"/>
<line x1="1087.50" y1="873.00" x2="1110.30" y2="873.00" stroke="#000" stroke-width="4.4"/>
<polygon points="1122.30,873.00 1109.30,879.50 1109.30,866.50" fill="#000"/>
</svg>
</body></html>
